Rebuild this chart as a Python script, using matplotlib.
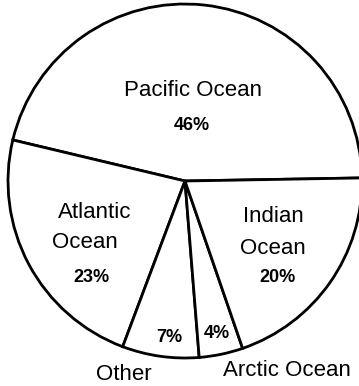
import matplotlib.pyplot as plt

# dati (percentuali della superficie oceanica)
oceani = ["Pacific Ocean", "Atlantic Ocean", "Other", "Arctic Ocean", "Indian Ocean"]
percentuali = [46, 23, 7, 4, 20]

W, H = 359, 386
fig = plt.figure(figsize=(W / 100, H / 100), dpi=100)
ax = fig.add_axes([0, 0, 1, 1])
ax.set_xlim(0, W)
ax.set_ylim(0, H)
ax.set_aspect('equal')
ax.axis('off')

plt.rcParams['font.family'] = ['Liberation Sans', 'DejaVu Sans']

ax.pie(percentuali, startangle=1.0, counterclock=True,
       center=(185, H - 181), radius=177,
       colors=['white'] * len(percentuali),
       wedgeprops=dict(edgecolor='black', linewidth=2.0))
ax.set_xlim(0, W)
ax.set_ylim(0, H)


def testo(x, y, s, size=16, bold=False):
    ax.text(x, H - y, s, ha='center', va='center', fontsize=size,
            fontweight='bold' if bold else 'normal', color='black')


testo(193, 91, "Pacific Ocean")
testo(192, 126, f"{percentuali[0]}%", 13, True)
testo(95, 212, "Atlantic")
testo(85, 243, "Ocean")
testo(91, 278, f"{percentuali[1]}%", 13, True)
testo(273, 217, "Indian")
testo(273, 248, "Ocean")
testo(278, 278, f"{percentuali[4]}%", 13, True)
testo(169, 337, f"{percentuali[2]}%", 13, True)
testo(217, 333, f"{percentuali[3]}%", 13, True)
testo(124, 375, "Other")
testo(287, 371, "Arctic Ocean")

fig.savefig("out.png", dpi=100)
